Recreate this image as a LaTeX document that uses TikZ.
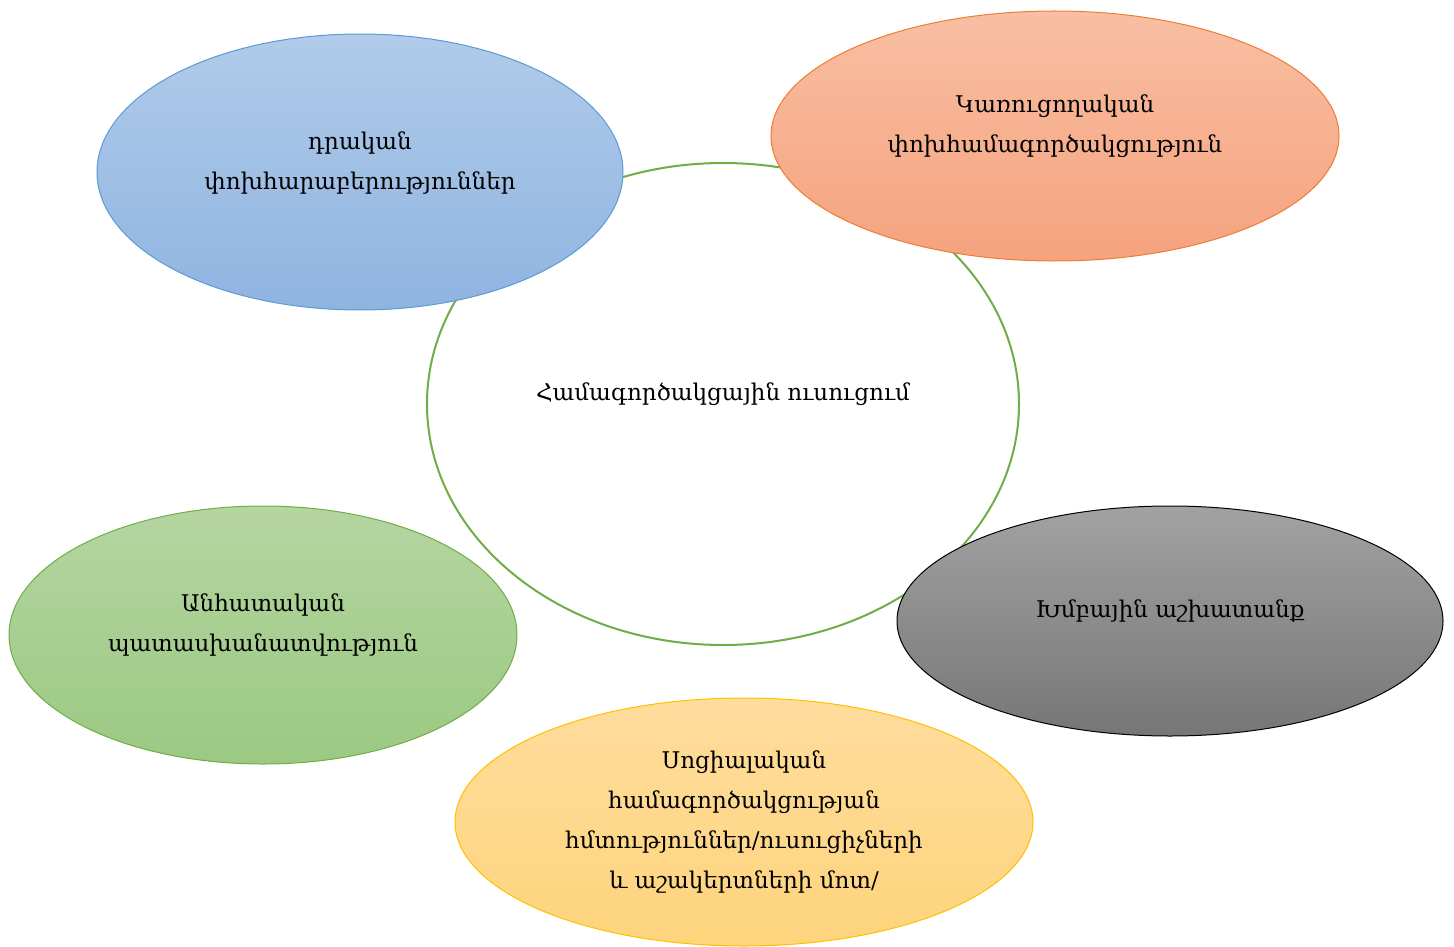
\documentclass[tikz,border=0pt]{standalone}
\usepackage{fontspec}
\setmainfont{DejaVu Serif}
\usetikzlibrary{shapes.geometric}
\definecolor{blueedge}{HTML}{5B9BD5}
\definecolor{bluetop}{HTML}{B1CBE9}
\definecolor{bluebot}{HTML}{8FB4E1}
\definecolor{orangeedge}{HTML}{ED7D31}
\definecolor{orangetop}{HTML}{F8BFA3}
\definecolor{orangebot}{HTML}{F6A27E}
\definecolor{greenedge}{HTML}{70AD47}
\definecolor{greentop}{HTML}{B5D5A1}
\definecolor{greenbot}{HTML}{9BC982}
\definecolor{graytop}{HTML}{A2A2A2}
\definecolor{graybot}{HTML}{767676}
\definecolor{yellowedge}{HTML}{FFC000}
\definecolor{yellowtop}{HTML}{FEDC9C}
\definecolor{yellowbot}{HTML}{FED47C}
\tikzset{
  bub/.style={ellipse, inner sep=0pt, line width=1pt},
  hub/.style={bub, draw=greenedge, fill=white, line width=2pt},
  lbl/.style={align=center, inner sep=0pt, font=\fontsize{23}{40}\selectfont},
}
\begin{document}
\begin{tikzpicture}[x=1pt,y=-1pt]
\useasboundingbox (0,0) rectangle (1454,947);
\node[hub, minimum width=592pt, minimum height=482pt] (c) at (723,404) {};
\node[lbl, yshift=10pt] (ct) at (c) {Համագործակցային ուսուցում};
\node[bub, draw=blueedge, top color=bluetop, bottom color=bluebot, minimum width=526pt, minimum height=276pt] (a) at (360,172) {};
\node[lbl, yshift=9pt] (at) at (a) {դրական\\փոխհարաբերություններ};
\node[bub, draw=orangeedge, top color=orangetop, bottom color=orangebot, minimum width=568pt, minimum height=250pt] (b) at (1055,136) {};
\node[lbl, yshift=10pt] (bt) at (b) {Կառուցողական\\փոխհամագործակցություն};
\node[bub, draw=greenedge, top color=greentop, bottom color=greenbot, minimum width=508pt, minimum height=258pt] (d) at (263,635) {};
\node[lbl, yshift=10pt] (dt) at (d) {Անհատական\\պատասխանատվություն};
\node[bub, draw=black, top color=graytop, bottom color=graybot, minimum width=546pt, minimum height=230pt] (e) at (1170,621) {};
\node[lbl, yshift=10pt] (et) at (e) {Խմբային աշխատանք};
\node[bub, draw=yellowedge, top color=yellowtop, bottom color=yellowbot, minimum width=578pt, minimum height=248pt] (f) at (744,822) {};
\node[lbl] (ft) at (f) {Սոցիալական\\համագործակցության\\հմտություններ/ուսուցիչների\\և աշակերտների մոտ/};
\end{tikzpicture}
\end{document}
